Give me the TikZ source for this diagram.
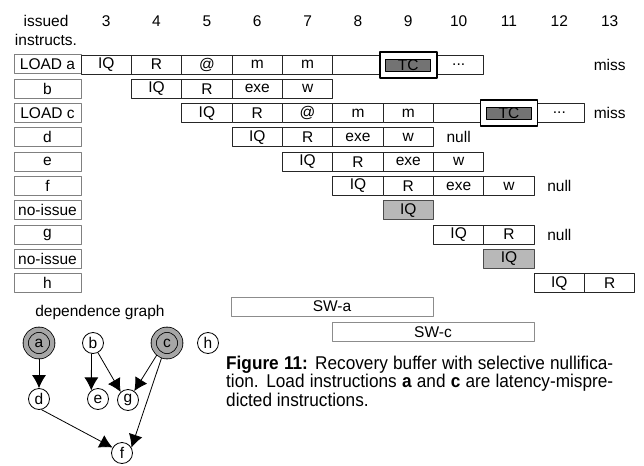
\documentclass[tikz,border=0pt]{standalone}
\usepackage{fontspec}
\setmainfont{Liberation Sans}
\newfontfamily\capfont[FakeStretch=0.93]{Liberation Sans}
\usetikzlibrary{arrows.meta}
% column centre of cycle #1
\newcommand{\cx}[1]{106.2+(#1-3)*50.35}
% row centre of row #1
\newcommand{\ry}[1]{64.5+(#1)*24.3}
\newcommand{\cont}{...}

\begin{document}
\begin{tikzpicture}[x=1pt,y=-1pt,line cap=round,line join=round,
  font=\fontsize{15.5}{17}\selectfont,
  cell/.style={draw=black!85,line width=0.8pt,fill=white,inner sep=0pt,
    minimum width=50.35pt,minimum height=19pt},
  instr/.style={draw=black!50,line width=1pt,inner sep=0pt,
    minimum width=67pt,minimum height=19pt},
  skipped/.style={cell,fill=black!28,draw=black!70},
  tcbox/.style={draw,line width=1.5pt,fill=white,minimum width=57pt,minimum height=26pt},
  tcfill/.style={draw,line width=0.8pt,fill=black!55,inner sep=0pt,
    minimum width=45pt,minimum height=12pt},
  window/.style={draw=black!45,line width=0.9pt,inner sep=0pt,
    minimum width=202pt,minimum height=19pt},
  vert/.style={circle,draw,line width=0.8pt,inner sep=0pt,minimum size=21pt},
  latmiss/.style={vert,fill=black!35,double=black!35,double distance=4.5pt,
    minimum size=26.5pt,outer sep=3pt},
  dep/.style={-{Latex[length=13pt,width=14pt]},line width=0.8pt}]
  \useasboundingbox (0,0) rectangle (644,465);

  % header
  \node (hd1) at (46,21) {issued};
  \node (hd2) at (46,40) {instructs.};
  \foreach \k in {3,...,13}
    \node (cyc\k) at ({\cx{\k}},21) {\k};

  % instruction labels
  \foreach \n/\t [count=\r from 0] in {la/LOAD a,lb/b,lc/LOAD c,ld/d,le/e,lf/f,
      ln1/no-issue,lg/g,ln2/no-issue,lh/h}
    \node[instr] (\n) at (47.5,{\ry{\r}}) {\t};

  % pipeline rows
  \foreach \c/\t in {3/IQ,4/R,5/@,6/m,7/m,8/{},9/{},10/\cont}
    \node[cell] (a\c) at ({\cx{\c}},{\ry{0}}) {\t};
  \foreach \c/\t in {4/IQ,5/R,6/exe,7/w}
    \node[cell] (b\c) at ({\cx{\c}},{\ry{1}}) {\t};
  \foreach \c/\t in {5/IQ,6/R,7/@,8/m,9/m,10/{},11/{},12/\cont}
    \node[cell] (c\c) at ({\cx{\c}},{\ry{2}}) {\t};
  \foreach \c/\t in {6/IQ,7/R,8/exe,9/w}
    \node[cell] (d\c) at ({\cx{\c}},{\ry{3}}) {\t};
  \foreach \c/\t in {7/IQ,8/R,9/exe,10/w}
    \node[cell] (e\c) at ({\cx{\c}},{\ry{4}}) {\t};
  \foreach \c/\t in {8/IQ,9/R,10/exe,11/w}
    \node[cell] (f\c) at ({\cx{\c}},{\ry{5}}) {\t};
  \node[skipped] (n9) at ({\cx{9}},{\ry{6}}) {IQ};
  \foreach \c/\t in {10/IQ,11/R}
    \node[cell] (g\c) at ({\cx{\c}},{\ry{7}}) {\t};
  \node[skipped] (n11) at ({\cx{11}},{\ry{8}}) {IQ};
  \foreach \c/\t in {12/IQ,13/R}
    \node[cell] (h\c) at ({\cx{\c}},{\ry{9}}) {\t};

  % tag checks
  \node[tcbox] (tca) at ({\cx{9}},65) {};
  \node[tcfill] (tcai) at (tca) {TC};
  \node[tcbox] (tcc) at ({\cx{11}},113) {};
  \node[tcfill] (tcci) at (tcc) {TC};

  % notes
  \node (missa) at ({\cx{13}},{\ry{0}}) {miss};
  \node (missc) at ({\cx{13}},{\ry{2}}) {miss};
  \node (nulld) at ({\cx{10}},{\ry{3}}) {null};
  \node (nullf) at ({\cx{12}},{\ry{5}}) {null};
  \node (nullg) at ({\cx{12}},{\ry{7}}) {null};

  % scheduling windows
  \node[window] (swa) at (332,306.5) {SW-a};
  \node[window] (swc) at (433,332) {SW-c};

  % dependence graph
  \node (dg) at (100,312) {dependence graph};
  \node[latmiss] (a) at (39,343) {a};
  \node[vert] (b) at (93,343) {b};
  \node[latmiss] (c) at (167,343) {c};
  \node[vert] (h) at (208,343) {h};
  \node[vert] (d) at (39,399) {d};
  \node[vert] (e) at (98,399) {e};
  \node[vert] (g) at (128,400) {g};
  \node[vert] (f) at (122,453) {f};
  \draw[dep] (a) -- (d);
  \draw[dep] (b.-98) -- (e.128);
  \draw[dep] (b.-63) -- (g.132);
  \draw[dep] (c.-130) -- (g.55);
  \draw[dep] (c.-110) -- (f.30);
  \draw[dep] (d.-77) -- (f.150);

  % caption
  \node[anchor=north west,text width=387pt,align=justify,inner sep=0pt] (cap) at (226,356)
    {\capfont\fontsize{18.5}{26.5}\selectfont\textbf{Figure 11:} Recovery buffer with
     selective nullifica-\linebreak tion. Load instructions \textbf{a} and \textbf{c}
     are latency-mispre-\linebreak dicted instructions.};
\end{tikzpicture}
\end{document}
